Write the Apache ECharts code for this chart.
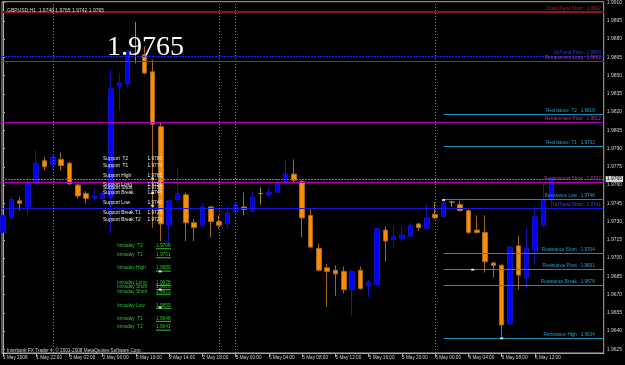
<!DOCTYPE html>
<html><head><meta charset="utf-8">
<script src="https://cdn.jsdelivr.net/npm/echarts@6/dist/echarts.min.js"></script>
<style>html,body{margin:0;padding:0;background:#000;}#c{width:625px;height:365px;}</style>
</head><body><div id="c"></div>
<script>
const symbolName = 'GBPUSD,H1';
const firstDateLabel = '1 May 2008';
const days = [['1 May',18,23],['2 May',0,21],['5 May',0,23],['6 May',0,14]];
const opens  = [1.9721,1.9733,1.9747,1.9742,1.9762,1.9780,1.9777,1.9781,1.9778,1.9760,1.9753,1.9749,1.9749,1.9750,1.9841,1.9843,1.9868,1.9867,1.9853,1.9808,1.9727,1.9748,1.9752,1.9729,1.9727,1.9742,1.9730,1.9728,1.9738,1.9742,1.9739,1.9753,1.9752,1.9754,1.9763,1.9769,1.9763,1.9735,1.9708,1.9692,1.9690,1.9689,1.9674,1.9690,1.9677,1.9678,1.9723,1.9715,1.9716,1.9718,1.9728,1.9724,1.9736,1.9734,1.9746,1.9744,1.9739,1.9723,1.9721,1.9696,1.9694,1.9646,1.9710,1.9684,1.9706,1.9727,1.9748];
const highs  = [1.9736,1.9751,1.9750,1.9767,1.9789,1.9783,1.9785,1.9787,1.9779,1.9761,1.9755,1.9757,1.9755,1.9855,1.9852,1.9871,1.9894,1.9874,1.9863,1.9811,1.9748,1.9774,1.9754,1.9732,1.9745,1.9743,1.9735,1.9740,1.9745,1.9754,1.9755,1.9758,1.9758,1.9765,1.9781,1.9781,1.9764,1.9740,1.9712,1.9695,1.9694,1.9693,1.9690,1.9693,1.9682,1.9725,1.9726,1.9727,1.9726,1.9729,1.9729,1.9744,1.9746,1.9748,1.9747,1.9747,1.9740,1.9735,1.9735,1.9697,1.9695,1.9710,1.9718,1.9725,1.9742,1.9761,1.9765];
const lows   = [1.9720,1.9731,1.9739,1.9735,1.9761,1.9772,1.9772,1.9772,1.9760,1.9749,1.9745,1.9747,1.9749,1.9720,1.9821,1.9840,1.9860,1.9851,1.9725,1.9714,1.9712,1.9747,1.9714,1.9714,1.9725,1.9717,1.9724,1.9724,1.9736,1.9735,1.9737,1.9744,1.9750,1.9754,1.9762,1.9762,1.9717,1.9708,1.9689,1.9660,1.9669,1.9671,1.9653,1.9674,1.9668,1.9678,1.9697,1.9708,1.9714,1.9717,1.9722,1.9724,1.9732,1.9734,1.9742,1.9738,1.9720,1.9720,1.9688,1.9684,1.9634,1.9645,1.9674,1.9675,1.9695,1.9725,1.9742];
const closes = [1.9735,1.9748,1.9745,1.9761,1.9778,1.9775,1.9783,1.9776,1.9761,1.9751,1.9749,1.9751,1.9753,1.9839,1.9844,1.9870,1.9868,1.9852,1.9810,1.9728,1.9747,1.9753,1.9729,1.9725,1.9742,1.9730,1.9727,1.9737,1.9744,1.9740,1.9750,1.9753,1.9754,1.9761,1.9769,1.9764,1.9733,1.9709,1.9690,1.9689,1.9687,1.9674,1.9689,1.9675,1.9680,1.9724,1.9714,1.9718,1.9719,1.9727,1.9725,1.9733,1.9733,1.9745,1.9746,1.9739,1.9721,1.9721,1.9697,1.9694,1.9645,1.9709,1.9686,1.9708,1.9734,1.9748,1.9765];

const xTickIdx = [0,4,8,12,16,20,24,28,32,36,40,44,48,52,56,60,64];
const yTicks = [1.9625,1.9640,1.9655,1.9670,1.9685,1.9700,1.9715,1.9730,1.9745,1.9760,1.9775,1.9790,1.9805,1.9820,1.9835,1.9850,1.9865,1.9880,1.9895,1.9910];
const separatorIdx = [6,26,28,52];

const fullNames  = ['DownTrend Short','UpTrend Pivot','Retracement Long','Retracement Pivot','Retracement Short','UpTrend Short'];
const fullLevels = [1.9902,1.9866,1.9862,1.9812,1.9762,1.9741];
const resistNames  = ['Resistance  T2','Resistance  T1','Resistance Low','Resistance Short','Resistance Pivot','Resistance Break','Resistance High'];
const resistLevels = [1.9818,1.9792,1.9748,1.9704,1.9691,1.9678,1.9634];
const resistStartIdx = 53;
const bidPrice = 1.9765;

const supportNames  = ['Support  T2','Support  T1','Support High','Support Long','Support Short','Support Break','Support Low','Support Break T1','Support Break T2'];
const supportValues = ['1.9783','1.9774','1.9765','1.9751','1.9750','1.9746','1.9740','1.9725','1.9723'];
const supportAt     = [1.97817,1.97760,1.97678,1.97599,1.97577,1.97536,1.97457,1.97375,1.97318];
const intraNames  = ['Intraday  T2','Intraday  T1','Intraday High','Intraday Long','Intraday Short','Intraday Short','Intraday Low','Intraday  T1','Intraday  T2'];
const intraValues = ['1.9708','1.9701','1.9689','1.9678','1.9676','1.9671','1.9659','1.9648','1.9641'];
const intraAt     = [1.97101,1.97027,1.96917,1.96800,1.96765,1.96727,1.96612,1.96504,1.96432];
const markerPts = [[18,1.97653],[18,1.97534],[18,1.9743],[18.9,1.9689],[18.9,1.96741],[18.9,1.96594],[53,1.97477],[56.5,1.96904],[60,1.9634]];

const times = [];
days.forEach(([d,a,b]) => { for (let h=a; h<=b; h++) times.push(d + ' ' + String(h).padStart(2,'0') + ':00'); });

const SP = 8.33, GL = 1, GR = 604;
const xMin = -(2 - GL) / SP, xMax = xMin + (GR - GL) / SP;
const yMin = 1.962198, yMax = 1.991066;
const FONT = 'Liberation Sans, Arial, sans-serif';
const DOJI = '#a08c2c';

const candleData = opens.map((o,i) => {
  const v = [i, o, closes[i], lows[i], highs[i]];
  if (o === closes[i]) return {value: v, itemStyle: {color: DOJI, color0: DOJI, borderColor: DOJI, borderColor0: DOJI}};
  return v;
});

function hLine(v, x0, st) {
  return [Object.assign({coord: [x0, v]}, st), Object.assign({coord: [xMax, v]}, st)];
}

const fullStyles = [
  {c:'#8c1616', t:'#b02828', type:'solid', w:2},
  {c:'#2020ff', t:'#2a3ad0', type:[2,1], w:1},
  {c:'#b400b4', t:'#a040a0', type:'solid', w:1},
  {c:'#b400b4', t:'#a040a0', type:'solid', w:1},
  {c:'#b400b4', t:'#a040a0', type:'solid', w:1},
  {c:'#1818d8', t:'#3a50d8', type:'solid', w:1}
];
const mlData = [];
fullLevels.forEach((v,i) => {
  const s = fullStyles[i];
  mlData.push(hLine(v, xMin, {lineStyle: {color: s.c, width: s.w, type: s.type},
    label: {show: true, position: 'insideEndTop', distance: [3, 1], formatter: fullNames[i] + '   ' + v.toFixed(4), color: s.t, fontSize: 4.6, fontFamily: FONT}}));
});
resistLevels.forEach((v,i) => {
  mlData.push(hLine(v, resistStartIdx, {lineStyle: {color: '#1e8ab4', width: 1, type: 'solid'},
    label: {show: true, position: 'insideEndTop', distance: [9, 1], formatter: resistNames[i] + '   ' + v.toFixed(4), color: '#2a9ccc', fontSize: 4.6, fontFamily: FONT}}));
});
mlData.push(hLine(bidPrice, xMin, {lineStyle: {color: '#4a9a3a', width: 1, type: [2,1]},
  label: {show: true, position: 'end', distance: 2, formatter: bidPrice.toFixed(4), color: '#000', backgroundColor: '#d8d8d8', padding: [1,1,0,1], fontSize: 5, fontFamily: FONT}}));
separatorIdx.forEach(ix => {
  const st = {lineStyle: {color: '#7a7a7a', width: 1, type: [1,2]}, label: {show: false}};
  mlData.push([Object.assign({coord: [ix, yMin]}, st), Object.assign({coord: [ix, yMax]}, st)]);
});

function labelSeries(names, values, at, nameX, valueX, color, underline) {
  return {
    type: 'custom', z: 10, silent: true,
    data: at.map((p,i) => [nameX, p, i]),
    renderItem(params, api) {
      const i = api.value(2);
      const pn = api.coord([nameX, api.value(1)]);
      const pv = api.coord([valueX, api.value(1)]);
      const ch = [
        {type:'text', x: pn[0], y: pn[1], style: {text: names[i], fill: color, font: '4.8px ' + FONT, align: 'left', verticalAlign: 'middle'}},
        {type:'text', x: pv[0], y: pv[1], style: {text: values[i], fill: color, font: '4.8px ' + FONT, align: 'left', verticalAlign: 'middle'}}
      ];
      if (underline) ch.push({type:'line', shape: {x1: pv[0], y1: pv[1] + 3, x2: pv[0] + 15, y2: pv[1] + 3}, style: {stroke: color, lineWidth: 1}});
      return {type: 'group', children: ch};
    }
  };
}

const last = opens.length - 1;
const option = {
  backgroundColor: '#000000',
  animation: false,
  title: [
    {text: symbolName + '  ' + [opens[last], highs[last], lows[last], closes[last]].map(v => v.toFixed(4)).join(' '), left: 2, top: 3,
     textStyle: {color: '#d8d8d8', fontSize: 5, fontWeight: 'normal', fontFamily: FONT}},
    {text: 'Interbank FX Trader 4, \u00a9 2001-2008 MetaQuotes Software Corp.', left: 2, top: 343,
     textStyle: {color: '#d0d0d0', fontSize: 4.7, fontWeight: 'normal', fontFamily: FONT}},
    {text: closes[last].toFixed(4), left: 102, top: 29,
     textStyle: {color: '#ffffff', fontSize: 28, fontWeight: 'normal', fontFamily: 'Liberation Serif, Times New Roman, serif'}}
  ],
  grid: {left: GL, right: 625 - GR, top: 0, bottom: 12, show: true, borderColor: '#a8a8a8', borderWidth: 1, backgroundColor: 'transparent'},
  xAxis: {
    type: 'value', min: xMin, max: xMax,
    axisLine: {show: true, lineStyle: {color: '#a8a8a8'}},
    axisTick: {show: true, customValues: xTickIdx, length: 4, lineStyle: {color: '#a8a8a8'}},
    axisLabel: {customValues: xTickIdx, formatter: v => v === 0 ? firstDateLabel : times[v], align: 'left', margin: 2,
      color: '#d0d0d0', fontSize: 4.7, fontFamily: FONT},
    splitLine: {show: false}
  },
  yAxis: {
    type: 'value', position: 'right', min: yMin, max: yMax,
    axisLine: {show: true, lineStyle: {color: '#a8a8a8'}},
    axisTick: {show: true, customValues: yTicks, length: 2, lineStyle: {color: '#a8a8a8'}},
    axisLabel: {customValues: yTicks, formatter: v => v.toFixed(4), margin: 3, color: '#d0d0d0', fontSize: 5, fontFamily: FONT},
    splitLine: {show: false}
  },
  series: [
    {
      type: 'candlestick', data: candleData, encode: {x: 0, y: [1,2,3,4]},
      barWidth: 5,
      itemStyle: {color: '#0000ff', color0: '#ff8c00', borderColor: '#1414b4', borderColor0: '#a06818', borderWidth: 1},
      markLine: {silent: true, symbol: 'none', animation: false, data: mlData}
    },
    labelSeries(supportNames, supportValues, supportAt, 12.04, 17.37, '#e8e8e8', false),
    labelSeries(intraNames, intraValues, intraAt, 13.75, 18.4, '#30c030', true),
    {type: 'scatter', z: 11, silent: true, data: markerPts, symbol: 'rect', symbolSize: [3,2], itemStyle: {color: '#ffffff'}}
  ]
};
echarts.init(document.getElementById('c')).setOption(option);
</script></body></html>
